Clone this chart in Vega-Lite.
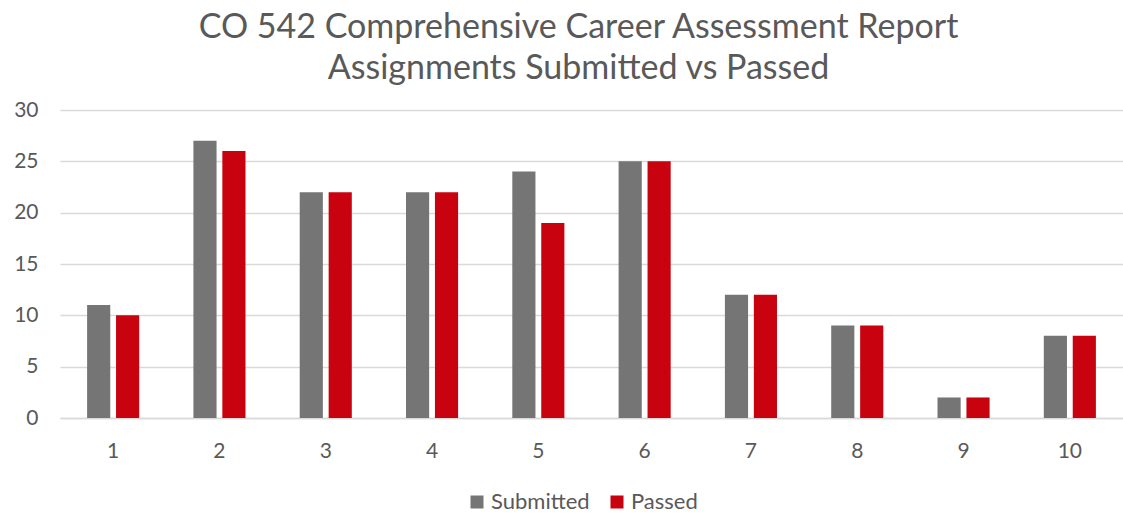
{
  "$schema": "https://vega.github.io/schema/vega-lite/v6.json",
  "autosize": "none",
  "width": 1063,
  "height": 308,
  "padding": {"left": 60, "top": 110, "right": 0, "bottom": 95},
  "background": "white",
  "title": {
    "text": ["CO 542 Comprehensive Career Assessment Report", "Assignments Submitted vs Passed"],
    "font": "Lato",
    "fontSize": 34,
    "fontWeight": "normal",
    "color": "#595959",
    "lineHeight": 41,
    "anchor": "middle",
    "dx": -13,
    "offset": 13
  },
  "data": {
    "values": [
      {"assignment": "1", "series": "Submitted", "count": 11},
      {"assignment": "1", "series": "Passed", "count": 10},
      {"assignment": "2", "series": "Submitted", "count": 27},
      {"assignment": "2", "series": "Passed", "count": 26},
      {"assignment": "3", "series": "Submitted", "count": 22},
      {"assignment": "3", "series": "Passed", "count": 22},
      {"assignment": "4", "series": "Submitted", "count": 22},
      {"assignment": "4", "series": "Passed", "count": 22},
      {"assignment": "5", "series": "Submitted", "count": 24},
      {"assignment": "5", "series": "Passed", "count": 19},
      {"assignment": "6", "series": "Submitted", "count": 25},
      {"assignment": "6", "series": "Passed", "count": 25},
      {"assignment": "7", "series": "Submitted", "count": 12},
      {"assignment": "7", "series": "Passed", "count": 12},
      {"assignment": "8", "series": "Submitted", "count": 9},
      {"assignment": "8", "series": "Passed", "count": 9},
      {"assignment": "9", "series": "Submitted", "count": 2},
      {"assignment": "9", "series": "Passed", "count": 2},
      {"assignment": "10", "series": "Submitted", "count": 8},
      {"assignment": "10", "series": "Passed", "count": 8}
    ]
  },
  "mark": {"type": "bar"},
  "encoding": {
    "x": {
      "field": "assignment",
      "type": "ordinal",
      "sort": ["1","2","3","4","5","6","7","8","9","10"],
      "scale": {"paddingInner": 0.51, "paddingOuter": 0.255},
      "axis": {
        "title": null,
        "labelAngle": 0,
        "labelFont": "Lato",
        "labelFontSize": 21,
        "labelColor": "#595959",
        "labelPadding": 22,
        "ticks": false,
        "domainColor": "#d9d9d9",
        "domainWidth": 1.5
      }
    },
    "xOffset": {
      "field": "series",
      "type": "nominal",
      "sort": ["Submitted", "Passed"],
      "scale": {"paddingInner": 0.2, "paddingOuter": 0}
    },
    "y": {
      "field": "count",
      "type": "quantitative",
      "scale": {"domain": [0, 30], "nice": false},
      "axis": {
        "title": null,
        "values": [0, 5, 10, 15, 20, 25, 30],
        "labelFont": "Lato",
        "labelFontSize": 21,
        "labelColor": "#595959",
        "labelPadding": 22,
        "ticks": false,
        "domain": false,
        "gridColor": "#d9d9d9",
        "gridWidth": 1.5
      }
    },
    "color": {
      "field": "series",
      "type": "nominal",
      "sort": ["Submitted", "Passed"],
      "scale": {"domain": ["Submitted", "Passed"], "range": ["#757575", "#c8030f"]},
      "legend": {
        "title": null,
        "orient": "none",
        "direction": "horizontal",
        "legendX": 406,
        "legendY": 381,
        "symbolType": "square",
        "symbolSize": 169,
        "symbolStrokeWidth": 0,
        "labelFont": "Lato",
        "labelFontSize": 22,
        "labelColor": "#595959",
        "columnPadding": 16,
        "labelOffset": 3
      }
    }
  },
  "config": {"view": {"stroke": null}}
}
